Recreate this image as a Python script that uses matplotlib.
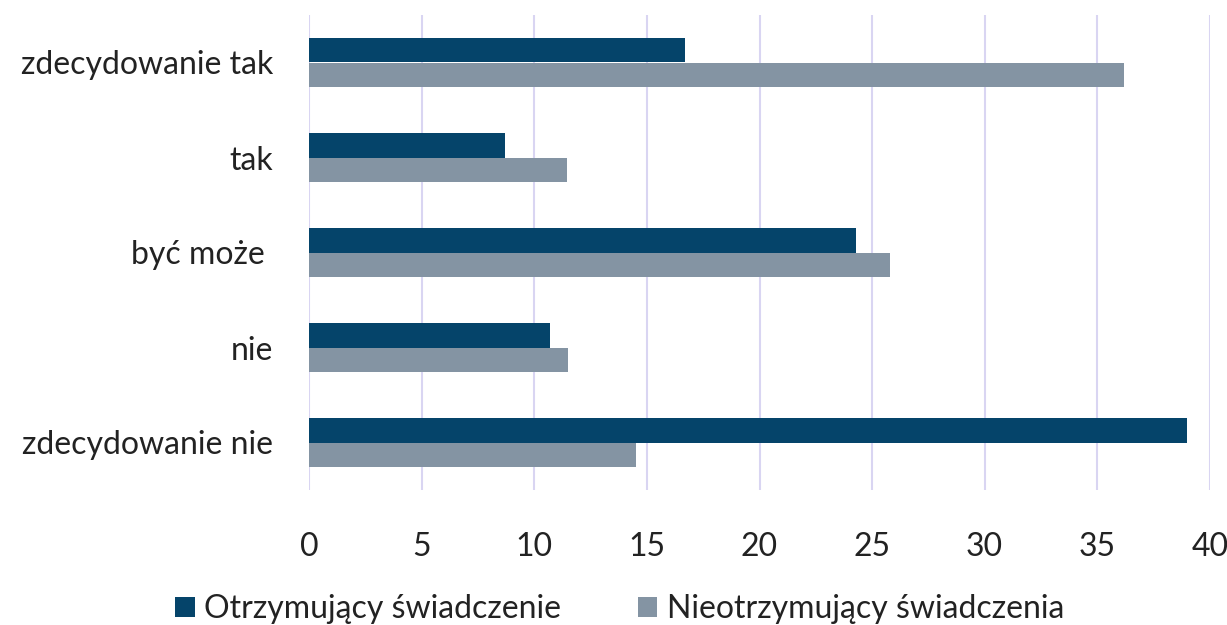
import matplotlib.pyplot as plt
import numpy as np

categories = ['zdecydowanie tak', 'tak', 'być może ', 'nie', 'zdecydowanie nie']
otrzymujacy = [16.7, 8.7, 24.3, 10.7, 39.0]
nieotrzymujacy = [36.2, 11.45, 25.8, 11.5, 14.5]
series_names = ['Otrzymujący świadczenie', 'Nieotrzymujący świadczenia']

plt.rcParams['font.family'] = ['Lato', 'DejaVu Sans']

fig = plt.figure(figsize=(12.27, 6.25), dpi=100)
ax = fig.add_axes([0.252, 0.216, 0.734, 0.76])

y = np.arange(len(categories))
h = 0.26
ax.barh(y - h / 2, otrzymujacy, height=h, color='#05446a', label=series_names[0], zorder=3)
ax.barh(y + h / 2, nieotrzymujacy, height=h, color='#8494a3', label=series_names[1], zorder=3)

ax.set_ylim(len(categories) - 0.5, -0.5)
ax.set_xlim(0, 40)
ax.set_xticks(range(0, 41, 5))
ax.set_yticks(y)
ax.set_yticklabels(categories)
ax.tick_params(axis='both', length=0, labelsize=23, colors='#222222')
ax.tick_params(axis='x', pad=30)
ax.tick_params(axis='y', pad=26)
ax.grid(axis='x', color='#d9d5f2', linewidth=1.5, zorder=0)
for s in ax.spines.values():
    s.set_visible(False)

fig.legend(loc='lower center', bbox_to_anchor=(0.505, -0.045), ncol=2, frameon=False,
           fontsize=23, handlelength=0.6, handleheight=0.6, handletextpad=0.3,
           columnspacing=2.4, labelcolor='#222222')

fig.savefig('out.png', dpi=100)
